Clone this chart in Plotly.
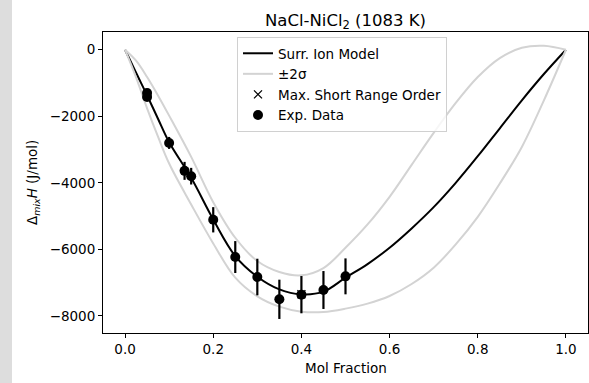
import plotly.graph_objects as go

# ---- data ----
model_x = [0.0, 0.025, 0.05, 0.075, 0.1, 0.15, 0.2, 0.25, 0.3, 0.35, 0.4, 0.45, 0.5,
           0.55, 0.6, 0.65, 0.7, 0.75, 0.8, 0.85, 0.9, 0.95, 1.0]
model_y = [0, -690, -1370, -2080, -2780, -3850, -5100, -6200, -6820, -7200, -7350, -7270, -6850,
           -6440, -5950, -5370, -4730, -4000, -3200, -2360, -1520, -730, 0]
upper_y = [0, -330, -820, -1380, -1980, -3220, -4580, -5650, -6350, -6680, -6780, -6560, -5950,
           -5250, -4420, -3460, -2500, -1600, -820, -250, 60, 120, 0]
lower_y = [0, -830, -1760, -2620, -3420, -4650, -5820, -6850, -7410, -7720, -7870, -7880, -7780,
           -7630, -7400, -7040, -6550, -5850, -5020, -4020, -2920, -1520, 0]

sro_x = [0.4]
sro_y = [-7350]

exp_x = [0.05, 0.05, 0.1, 0.135, 0.15, 0.2, 0.25, 0.3, 0.35, 0.4, 0.45, 0.5]
exp_y = [-1300, -1420, -2800, -3640, -3800, -5110, -6230, -6830, -7500, -7360, -7220, -6810]
exp_err = [120, 120, 180, 270, 250, 380, 480, 550, 590, 560, 570, 540]

x_ticks = [0.0, 0.2, 0.4, 0.6, 0.8, 1.0]
x_ticklabels = ["0.0", "0.2", "0.4", "0.6", "0.8", "1.0"]
y_ticks = [0, -2000, -4000, -6000, -8000]
y_ticklabels = ["0", "\u22122000", "\u22124000", "\u22126000", "\u22128000"]

FONT = "DejaVu Sans"
GRAY = "#d3d3d3"
FS = 13.5

fig = go.Figure()
fig.add_trace(go.Scatter(x=model_x, y=model_y, mode="lines", name="Surr. Ion Model",
                         line=dict(color="black", width=2, shape="spline", smoothing=1)))
fig.add_trace(go.Scatter(x=model_x, y=upper_y, mode="lines", name="\u00b12\u03c3",
                         legendgroup="sig",
                         line=dict(color=GRAY, width=2, shape="spline", smoothing=1)))
fig.add_trace(go.Scatter(x=model_x, y=lower_y, mode="lines", name="\u00b12\u03c3",
                         legendgroup="sig", showlegend=False,
                         line=dict(color=GRAY, width=2, shape="spline", smoothing=1)))
fig.add_trace(go.Scatter(x=sro_x, y=sro_y, mode="markers", name="Max. Short Range Order",
                         marker=dict(symbol="x-thin", size=8, color="black",
                                     line=dict(color="black", width=1.3))))
fig.add_trace(go.Scatter(x=exp_x, y=exp_y, mode="markers", name="Exp. Data",
                         marker=dict(symbol="circle", size=10, color="black"),
                         error_y=dict(type="data", array=exp_err, visible=True,
                                      color="black", thickness=2.2, width=0)))

plot_l, plot_r = 103, 588
plot_t, plot_b = 32, 333
pw = plot_r - plot_l
ph = plot_b - plot_t

def px_x(p):
    return (p - plot_l) / pw

def px_y(p):
    return 1 - (p - plot_t) / ph

fig.update_layout(
    width=589, height=383,
    margin=dict(l=plot_l, r=589 - plot_r, t=plot_t, b=383 - plot_b, autoexpand=False),
    paper_bgcolor="white", plot_bgcolor="white",
    font=dict(family=FONT, size=FS, color="black"),
    showlegend=True,
    title=dict(text="NaCl-NiCl<sub>2</sub> (1083 K)", x=345.5 / 589, xanchor="center",
               y=1 - 20 / 383, yanchor="middle", font=dict(size=16.5, family=FONT)),
    legend=dict(x=px_x(237), y=px_y(37), xanchor="left", yanchor="top",
                bgcolor="rgba(255,255,255,0.8)", bordercolor="#d0d0d0", borderwidth=1,
                font=dict(size=FS, family=FONT), tracegroupgap=0, itemwidth=30),
    xaxis=dict(range=[-0.05, 1.05], tickvals=x_ticks, ticktext=x_ticklabels, automargin=False,
               showgrid=False, zeroline=False, showline=True, linecolor="black", linewidth=1,
               mirror=True, ticks="outside", ticklen=4, tickcolor="black", tickwidth=1,
               tickfont=dict(size=FS, family=FONT)),
    yaxis=dict(range=[-8512, 533], tickvals=y_ticks, ticktext=y_ticklabels, automargin=False,
               showgrid=False, zeroline=False, showline=True, linecolor="black", linewidth=1,
               mirror=True, ticks="outside", ticklen=4, tickcolor="black", tickwidth=1,
               tickfont=dict(size=FS, family=FONT)),
    annotations=[
        dict(text="Mol Fraction", xref="paper", yref="paper", x=px_x(345.5), y=px_y(368),
             xanchor="center", yanchor="middle", showarrow=False,
             font=dict(size=FS, family=FONT)),
        dict(text="\u0394<sub><i>mix</i></sub><i>H</i> (J/mol)", xref="paper", yref="paper",
             x=px_x(33), y=px_y(183), xanchor="center", yanchor="middle", textangle=-90,
             showarrow=False, font=dict(size=FS, family=FONT)),
    ],
    shapes=[dict(type="rect", xref="paper", yref="paper",
                 x0=px_x(0), x1=px_x(12), y0=px_y(383), y1=px_y(0),
                 fillcolor="#dddddd", line=dict(width=0), layer="below")],
)

fig.write_html("out.html", config={"displayModeBar": False},
               post_script="document.body.style.margin='0';document.body.style.overflow='hidden';")
